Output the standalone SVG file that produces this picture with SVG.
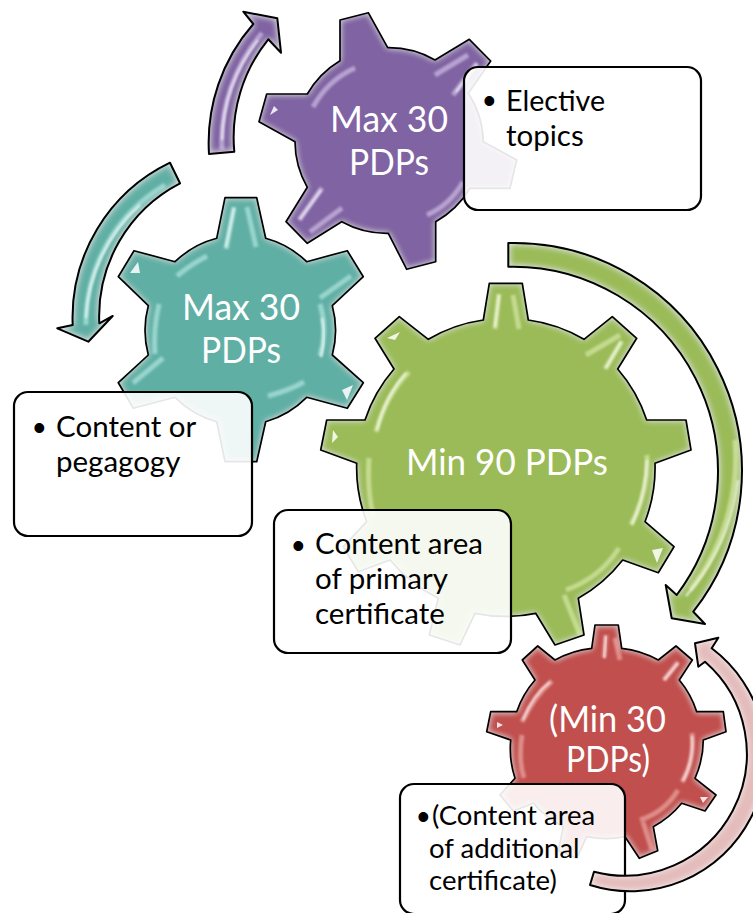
<svg xmlns="http://www.w3.org/2000/svg" width="753" height="913" viewBox="0 0 753 913">
<style>
text{font-family:"Lato","Carlito","Open Sans",sans-serif}
.gt{fill:#fff;font-size:36px;text-anchor:middle}
.bt{fill:#000;font-size:29.5px}
.rt{fill:#000;font-size:27.5px}
.bl{fill:#000;font-size:36px;font-family:"Liberation Sans",sans-serif}
.edge{fill:none;stroke:#000;stroke-width:1.7;stroke-linejoin:round}
.aedge{fill:none;stroke:#000;stroke-width:2;stroke-linejoin:round}
.box{fill:#fff;fill-opacity:.9;stroke:#000;stroke-width:2.2}
.fx{filter:url(#bevel)}
.ax{filter:url(#bevel2)}
.hl{fill:none;stroke-width:5;stroke-opacity:.6;stroke-linecap:butt;filter:url(#soft)}
.hw{fill:none;stroke:#fff;stroke-width:2;stroke-linecap:butt;stroke-opacity:.8;filter:url(#soft)}
.tip{fill:#fff;fill-opacity:.85}
.pu{fill:#8064a2}.te{fill:#60afa5}.gr{fill:#9bbb59}.re{fill:#c0504d}.pk{fill:#e3bcbb}
.hpu{stroke:#dccdf0}.hte{stroke:#bdeee8}.hgr{stroke:#dff0b4}.hre{stroke:#f3b5b3}
</style>
<defs>
<filter id="bevel" x="-5%" y="-5%" width="110%" height="110%">
<feGaussianBlur in="SourceAlpha" stdDeviation="3" result="b"/>
<feComposite in="SourceAlpha" in2="b" operator="out" result="e"/>
<feFlood flood-color="#fff" flood-opacity=".7"/>
<feComposite in2="e" operator="in" result="g"/>
<feMerge><feMergeNode in="SourceGraphic"/><feMergeNode in="g"/></feMerge>
</filter>
<filter id="bevel2" x="-10%" y="-10%" width="120%" height="120%">
<feGaussianBlur in="SourceAlpha" stdDeviation="3.5" result="b"/>
<feComposite in="SourceAlpha" in2="b" operator="out" result="e"/>
<feFlood flood-color="#fff" flood-opacity=".9"/>
<feComposite in2="e" operator="in" result="g"/>
<feMerge><feMergeNode in="SourceGraphic"/><feMergeNode in="g"/></feMerge>
</filter>
<filter id="soft" x="-40%" y="-40%" width="180%" height="180%"><feGaussianBlur stdDeviation=".9"/></filter>
<path id="gp" d="M340,20 L368.3,12.7 L387.7,47.7 A93,93 0 0 1 435,60 L469.3,39.3 L490.7,61 L468.3,93.3 A93,93 0 0 1 483.3,141.7 L516.7,160 L510,188.3 L470,188.3 A93,93 0 0 1 435.7,221.7 L435.7,261.7 L406.7,269.3 L388.3,233.3 A93,93 0 0 1 341.7,221.7 L307.3,243.3 L286,221.7 L307.3,187.3 A93,93 0 0 1 295,141.7 L259,121.7 L266.7,94 L307.3,94 A93,93 0 0 1 340,60.7 Z"/>
<path id="gt" d="M225,197.7 L256.7,197.7 L265.7,238.3 A95,95 0 0 1 306.7,261.7 L347.3,250.7 L363.3,276.7 L332.3,305.7 A95,95 0 0 1 332.3,355 L363.3,382.7 L347.3,408.3 L306.7,397.3 A95,95 0 0 1 265.7,421.7 L256.7,461.7 L225,461.7 L216.7,421.7 A95,95 0 0 1 175,397.3 L133.3,408.3 L118.3,382.7 L148.3,355 A95,95 0 0 1 148.3,305.7 L118.3,276.7 L134,250.7 L175,261.7 A95,95 0 0 1 216.7,238.3 Z"/>
<path id="gg" d="M489.3,283.3 L522.3,283.3 L528.3,320 A149,149 0 0 1 584,339.3 L612.3,316.7 L636.7,338.3 L617.7,369 A149,149 0 0 1 646.7,420 L686,420 L691,450 L655,463.3 A149,149 0 0 1 645,521.7 L674,546.7 L658.3,572.7 L622.7,560 A149,149 0 0 1 578.3,598.3 L584,635 L555,645 L535.7,613.3 A149,149 0 0 1 475,613.3 L460,645 L429.3,635 L438.3,598.3 A149,149 0 0 1 390,560 L358.3,571.7 L343.3,546.7 L366.7,521.7 A149,149 0 0 1 356.7,463.3 L320.7,450 L326.7,420 L365,420 A149,149 0 0 1 394,369 L375,338.3 L399.3,316.7 L428.3,339.3 A149,149 0 0 1 483.3,320 Z"/>
<path id="gr" d="M595,625 L618.3,625 L621.7,648.3 A95,95 0 0 1 658.3,660 L676,646 L692.3,660 L679.3,680 A95,95 0 0 1 696.7,711.7 L723.3,711.7 L726,731.7 L703.3,740 A95,95 0 0 1 695,778.3 L716,795 L705,811 L681.7,803.3 A95,95 0 0 1 653.3,826.7 L657.7,850.7 L639.3,858.3 L625,836.7 A95,95 0 0 1 586.7,836.7 L576.7,858.3 L558.3,850.7 L563.3,826.7 A95,95 0 0 1 533.3,803.3 L513.3,811 L500,795 L515,778.3 A95,95 0 0 1 510.7,740 L486.7,731.7 L490.7,711.7 L516.7,711.7 A95,95 0 0 1 535,680 L522.3,660 L537.7,646 L555,660 A95,95 0 0 1 591.7,648.3 Z"/>
<path id="ap" d="M209,154 A180,180 0 0 1 253.3,24 L243.3,11.7 L277.3,18.3 L281,52.7 L268.3,39.3 A156,156 0 0 0 234.3,151.7 Z"/>
<path id="at" d="M170,162.7 A172,172 0 0 0 72.7,325 L57.3,328.3 L88.3,341.7 L112.7,316 L99.3,323.3 A150,150 0 0 1 180,183.3 Z"/>
<path id="ag" d="M508.3,243 A228,228 0 0 1 693.3,611.7 L705,624 L671.7,618.3 L665.7,585 L676.7,595 A205,205 0 0 0 508.3,266.7 Z"/>
<path id="ar" d="M590,885 A135,135 0 0 0 711.7,648.3 L718.3,637.7 L695,643.3 L698.3,666.7 L705,661.7 A122,122 0 0 1 594,871.7 Z"/>
</defs>

<g id="gear-purple">
<use href="#gp" class="pu fx"/>
<g class="hl hpu"><path d="M313,107 Q328,80 355,68"/><path d="M435,75 L468,55"/><path d="M453,95 L477,63"/><path d="M299,220 L322,188"/><path d="M310,232 L342,208"/><path d="M427,215 Q450,205 463,182"/></g>
<path class="hw" d="M300,219 L321,190"/>
<path class="hw" d="M456,92 L477,64"/>
<polygon class="tip" points="270,115 278,110 274,106"/>
<use href="#gp" class="edge"/>
<text class="gt" x="389" y="132" textLength="118" lengthAdjust="spacingAndGlyphs">Max 30</text>
<text class="gt" x="389" y="175" textLength="80" lengthAdjust="spacingAndGlyphs">PDPs</text>
</g>

<g id="gear-teal">
<use href="#gt" class="te fx"/>
<g class="hl hte"><path d="M226,249 L234,207"/><path d="M256,247 L247,207"/><path d="M177,276 Q190,265 207,256"/><path d="M320,298 L351,276"/><path d="M159,304 Q153,330 155,354"/><path d="M320,356 Q328,330 320,304"/><path d="M133,383 L163,358"/><path d="M268,396 Q290,390 304,382"/></g>
<path class="hw" d="M226,247 L234,208"/>
<path class="hw" d="M321,357 Q326,335 322,318"/>
<polygon class="tip" points="130,273 138,262 140,273"/>
<polygon class="tip" points="342,390 353,385 347,400"/>
<use href="#gt" class="edge"/>
<text class="gt" x="241" y="320" textLength="118" lengthAdjust="spacingAndGlyphs">Max 30</text>
<text class="gt" x="241" y="363" textLength="80" lengthAdjust="spacingAndGlyphs">PDPs</text>
</g>

<g id="gear-green">
<use href="#gg" class="gr fx"/>
<g class="hl hgr"><path d="M495,329 L499,294"/><path d="M519,329 L513,295"/><path d="M586,355 L620,335"/><path d="M605,369 L622,341"/><path d="M376,432 Q386,395 409,372"/><path d="M369,458 Q367,490 373,515"/><path d="M647,455 Q649,490 631,525"/><path d="M566,590 Q600,578 619,548"/><path d="M564,595 L580,635"/></g>
<path class="hw" d="M495,327 L499,295"/>
<path class="hw" d="M606,368 L621,342"/>
<path class="hw" d="M377,430 Q385,397 406,373"/>
<path class="hw" d="M632,524 Q646,495 647,460"/>
<polygon class="tip" points="333,430 338,437 332,443"/>
<polygon class="tip" points="652,550 663,548 657,563"/>
<polygon class="tip" points="387,338 400,332 395,340"/>
<use href="#gg" class="edge"/>
<text class="gt" x="507" y="475" textLength="202" lengthAdjust="spacingAndGlyphs">Min 90 PDPs</text>
</g>

<g id="gear-red">
<use href="#gr" class="re fx"/>
<g class="hl hre"><path d="M604,658 L606,635"/><path d="M620,660 L615,638"/><path d="M664,680 L678,662"/><path d="M522,722 Q535,695 552,681"/><path d="M522,735 Q518,760 524,778"/><path d="M692,733 Q695,760 682,782"/><path d="M640,820 Q665,812 678,790"/><path d="M643,822 L652,850"/></g>
<path class="hw" d="M604,658 L606,636"/>
<path class="hw" d="M664,680 L678,663"/>
<path class="hw" d="M523,720 Q533,695 550,682"/>
<path class="hw" d="M683,781 Q694,760 692,736"/>
<polygon class="tip" points="497,722 503,725 497,728"/>
<polygon class="tip" points="700,797 708,797 703,803"/>
<use href="#gr" class="edge"/>
<text class="gt" x="607.5" y="732" textLength="117" lengthAdjust="spacingAndGlyphs">(Min 30</text>
<text class="gt" x="608" y="772" textLength="84" lengthAdjust="spacingAndGlyphs">PDPs)</text>
</g>

<g id="box-elective">
<rect class="box" x="464" y="67" width="237" height="143" rx="14"/>
<text class="bl" x="483" y="113">•</text>
<text class="bt" x="506" y="111" textLength="99" lengthAdjust="spacingAndGlyphs">Elective</text>
<text class="bt" x="506" y="146">topics</text>
</g>
<g id="box-content">
<rect class="box" x="14" y="392" width="238" height="144" rx="14"/>
<text class="bl" x="33" y="440">•</text>
<text class="bt" x="56" y="437">Content or</text>
<text class="bt" x="56" y="472">pegagogy</text>
</g>
<g id="box-primary">
<rect class="box" x="274" y="510" width="237" height="143" rx="14"/>
<text class="bl" x="292" y="558">•</text>
<text class="bt" x="315" y="554">Content area</text>
<text class="bt" x="315" y="589">of primary</text>
<text class="bt" x="315" y="624">certificate</text>
</g>
<g id="box-additional">
<rect class="box" x="400" y="784" width="225" height="130" rx="14"/>
<text class="bl" x="417" y="829">•</text>
<text class="rt" x="432" y="825">(Content area</text>
<text class="rt" x="429" y="858">of additional</text>
<text class="rt" x="429" y="890">certificate)</text>
</g>

<g id="connectors">
<use href="#ap" class="pu ax"/>
<path class="hl hpu" d="M222,150 A168,168 0 0 1 262,33"/><path class="hw" d="M222,140 A168,168 0 0 1 258,40"/>
<use href="#ap" class="aedge"/>
<use href="#at" class="te ax"/>
<path class="hl hte" d="M86,325 A161,161 0 0 1 165,185"/><path class="hw" d="M86,318 A161,161 0 0 1 140,205"/>
<use href="#at" class="aedge"/>
<use href="#ag" class="gr ax"/>
<path class="hl hgr" d="M690,590 A216,216 0 0 0 735,440"/><path class="hw" d="M686,596 A216,216 0 0 0 738,480"/>
<use href="#ag" class="aedge"/>
<use href="#ar" class="pk ax"/>
<use href="#ar" class="aedge"/>
</g>
</svg>
